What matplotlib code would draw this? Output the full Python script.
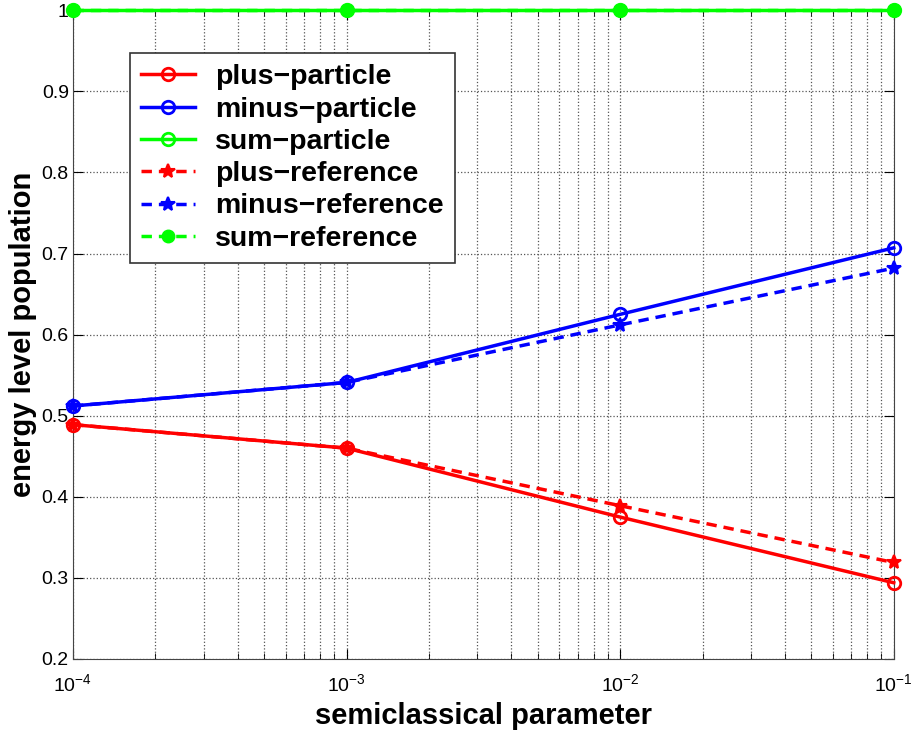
import matplotlib
matplotlib.use("Agg")
import matplotlib.pyplot as plt
from matplotlib.ticker import LogLocator, FixedLocator, NullFormatter

plt.rcParams['font.family'] = ['Liberation Sans', 'DejaVu Sans']

x = [1e-4, 1e-3, 1e-2, 1e-1]
plus_particle = [0.489, 0.460, 0.375, 0.294]
minus_particle = [0.512, 0.541, 0.625, 0.707]
sum_particle = [1.0, 1.0, 1.0, 1.0]
plus_reference = [0.489, 0.460, 0.389, 0.319]
minus_reference = [0.512, 0.541, 0.612, 0.682]
sum_reference = [1.0, 1.0, 1.0, 1.0]

fig = plt.figure(figsize=(9.12, 7.31), dpi=100)
ax = fig.add_axes([0.080, 0.0985, 0.900, 0.8875])

lw = 2.5
ax.plot(x, plus_particle, '-', color='#ff0000', lw=lw, marker='o', mfc='none', mec='#ff0000', ms=9, mew=2, label='plus\u2212particle', clip_on=False, zorder=3)
ax.plot(x, minus_particle, '-', color='#0000ff', lw=lw, marker='o', mfc='none', mec='#0000ff', ms=9, mew=2, label='minus\u2212particle', clip_on=False, zorder=3)
ax.plot(x, sum_particle, '-', color='#00ff00', lw=lw, marker='o', mfc='none', mec='#00ff00', ms=9, mew=2, label='sum\u2212particle', clip_on=False, zorder=3)
ax.plot(x, plus_reference, '--', color='#ff0000', lw=lw, marker='*', ms=10, mew=1.5, label='plus\u2212reference', clip_on=False, zorder=3, dashes=(3, 2))
ax.plot(x, minus_reference, '--', color='#0000ff', lw=lw, marker='*', ms=10, mew=1.5, label='minus\u2212reference', clip_on=False, zorder=3, dashes=(3, 2))
ax.plot(x, sum_reference, '--', color='#00ff00', lw=lw, marker='o', ms=9, label='sum\u2212reference', clip_on=False, zorder=4, dashes=(3, 2))

ax.set_xscale('log')
ax.set_xlim(1e-4, 1e-1)
ax.set_ylim(0.2, 1.0)
ax.set_yticks([0.2, 0.3, 0.4, 0.5, 0.6, 0.7, 0.8, 0.9, 1.0])
ax.set_yticklabels(['0.2', '0.3', '0.4', '0.5', '0.6', '0.7', '0.8', '0.9', '1'])
ax.xaxis.set_major_locator(FixedLocator([1e-4, 1e-3, 1e-2, 1e-1]))
ax.xaxis.set_minor_locator(LogLocator(base=10, subs=range(2, 10)))
ax.xaxis.set_minor_formatter(NullFormatter())

ax.grid(True, which='major', axis='both', linestyle=':', color='#555555', lw=0.9)
ax.grid(True, which='minor', axis='x', linestyle=':', color='#555555', lw=0.9)

ax.tick_params(which='both', direction='in', top=True, right=True, labelsize=14)
ax.tick_params(axis='x', which='major', pad=10, labelsize=14)
ax.tick_params(axis='y', which='major', pad=3)
ax.tick_params(which='major', length=7)
ax.tick_params(which='minor', length=4)
for s in ax.spines.values():
    s.set_color('#444444')

ax.set_xlabel('semiclassical parameter', fontsize=21, fontweight='bold', labelpad=5)
ax.set_ylabel('energy level population', fontsize=21, fontweight='bold', labelpad=3)

leg = ax.legend(loc='upper left', bbox_to_anchor=(0.069, 0.934), prop={'size': 20.5, 'weight': 'bold'},
                fancybox=False, framealpha=1, edgecolor='#333333', handlelength=1.9,
                borderpad=0.4, labelspacing=0.22, handletextpad=0.7, borderaxespad=0)
leg.get_frame().set_linewidth(1.2)

fig.savefig('out.png', dpi=100)
